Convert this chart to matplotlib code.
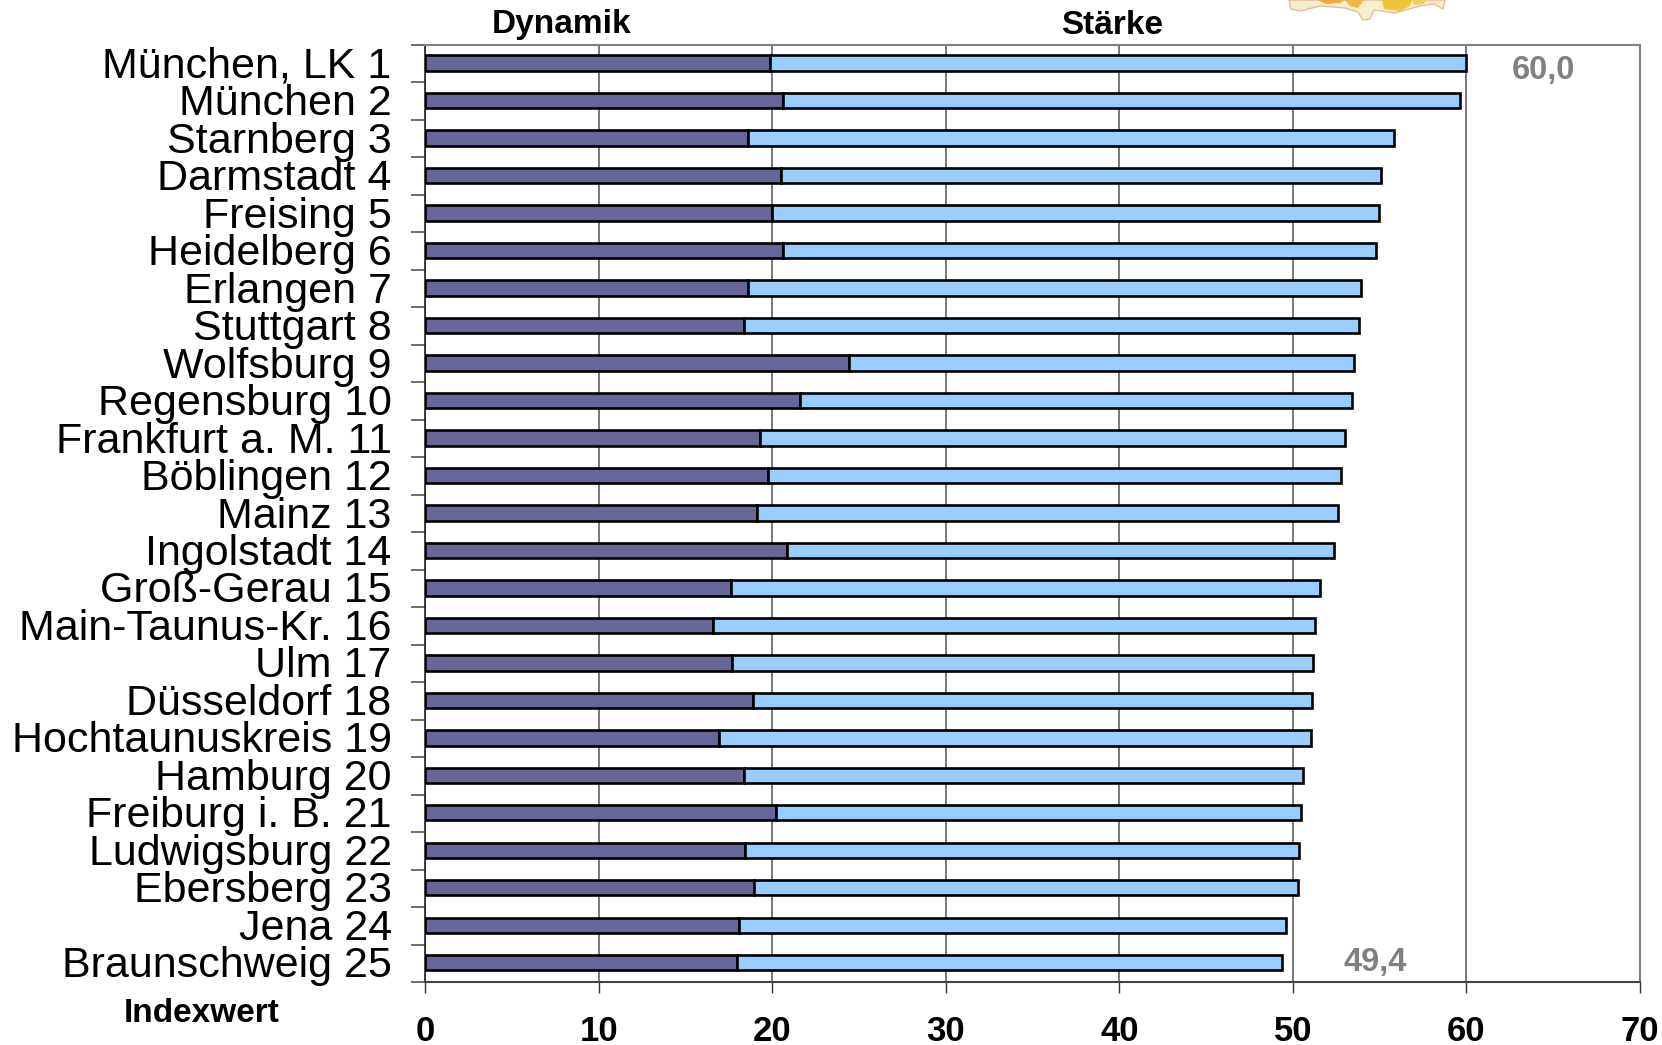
import matplotlib
matplotlib.use("Agg")
import matplotlib.pyplot as plt
import numpy as np
from matplotlib.patches import Polygon
from matplotlib.transforms import ScaledTranslation

CITIES = ["München, LK 1", "München 2", "Starnberg 3", "Darmstadt 4", "Freising 5",
          "Heidelberg 6", "Erlangen 7", "Stuttgart 8", "Wolfsburg 9", "Regensburg 10",
          "Frankfurt a. M. 11", "Böblingen 12", "Mainz 13", "Ingolstadt 14", "Groß-Gerau 15",
          "Main-Taunus-Kr. 16", "Ulm 17", "Düsseldorf 18", "Hochtaunuskreis 19", "Hamburg 20",
          "Freiburg i. B. 21", "Ludwigsburg 22", "Ebersberg 23", "Jena 24", "Braunschweig 25"]
DYNAMIK = [19.85, 20.6, 18.6, 20.5, 20.0, 20.6, 18.6, 18.4, 24.4, 21.6,
           19.3, 19.75, 19.1, 20.85, 17.65, 16.6, 17.7, 18.9, 16.95, 18.4,
           20.2, 18.45, 18.95, 18.1, 18.0]
TOTAL = [60.0, 59.65, 55.8, 55.1, 54.95, 54.8, 53.95, 53.8, 53.55, 53.4,
         53.0, 52.75, 52.6, 52.35, 51.55, 51.3, 51.15, 51.1, 51.05, 50.6,
         50.45, 50.35, 50.3, 49.6, 49.4]
XTICKS = [0, 10, 20, 30, 40, 50, 60, 70]

W, H = 1662, 1045
plt.rcParams["font.family"] = ["Liberation Sans", "DejaVu Sans"]


def map_patch(fig, pts, face, edge="none"):
    # cropped map picture at the top edge, given in pixels
    xy = [(px / W, 1 - py / H) for px, py in pts]
    fig.add_artist(Polygon(xy, closed=True, facecolor=face, edgecolor=edge, linewidth=1,
                           transform=fig.transFigure))


fig = plt.figure(figsize=(W / 100, H / 100), dpi=100)
ax = fig.add_axes([425 / W, 1 - 982 / H, (1640 - 425) / W, (982 - 45) / H])

y = np.arange(len(CITIES)) - 0.015
staerke = np.array(TOTAL) - np.array(DYNAMIK)
ax.barh(y, DYNAMIK, height=0.41, color="#666699", edgecolor="black", linewidth=1.9, zorder=3)
ax.barh(y, staerke, left=DYNAMIK, height=0.41, color="#99ccff", edgecolor="black", linewidth=1.9, zorder=3)

ax.set_xlim(0, 70)
ax.set_ylim(len(CITIES) - 0.5, -0.5)
ax.xaxis.grid(True, color="#555555", linewidth=1.1, zorder=1)
ax.set_axisbelow(True)

ax.set_xticks(XTICKS)
ax.set_xticklabels([str(v) for v in XTICKS], fontsize=25, fontweight="bold")
ax.tick_params(axis="x", length=8, width=1, pad=16, color="#333333")

# labels sit on the categories, tick marks on the boundaries between them
ax.set_yticks(np.arange(len(CITIES)))
ax.set_yticklabels(CITIES, fontsize=31, color="black")
ax.tick_params(axis="y", which="major", length=0, pad=24)
ax.set_yticks(np.arange(len(CITIES) + 1) - 0.5, minor=True)
ax.tick_params(axis="y", which="minor", length=10, width=1.1, color="#444444")
nudge = ScaledTranslation(0, 1.5 / 100, fig.dpi_scale_trans)
for lab in ax.get_yticklabels():
    lab.set_transform(lab.get_transform() + nudge)

ax.spines["left"].set_color("#222222")
ax.spines["left"].set_linewidth(1.2)
for side in ["top", "right", "bottom"]:
    ax.spines[side].set_color("#808080")
    ax.spines[side].set_linewidth(1.5)
ax.spines["bottom"].set_color("#444444")

fig.text(562 / W, 1 - 25 / H, "Dynamik", fontsize=24, fontweight="bold", ha="center", va="center")
fig.text(1112 / W, 1 - 25 / H, "Stärke", fontsize=24, fontweight="bold", ha="center", va="center")
fig.text(202 / W, 1 - 1014 / H, "Indexwert", fontsize=24, fontweight="bold", ha="center", va="center")
ax.text(64.45, 0.18, "60,0", fontsize=23.5, fontweight="bold", color="#808080", ha="center", va="center")
ax.text(54.75, 23.98, "49,4", fontsize=23.5, fontweight="bold", color="#808080", ha="center", va="center")

map_patch(fig, [(1289, 0), (1291, 9), (1300, 11), (1320, 6), (1345, 8), (1358, 12), (1363, 20),
                (1370, 19), (1374, 10), (1395, 13), (1420, 6), (1434, 4), (1443, 9), (1445, 0)],
          "#f6eec8", "#e8b8a0")
map_patch(fig, [(1318, 0), (1326, 4), (1340, 3), (1345, 0)], "#f2a83c")
map_patch(fig, [(1345, 0), (1350, 6), (1358, 8), (1364, 0)], "#f0b848")
map_patch(fig, [(1382, 0), (1384, 9), (1400, 11), (1410, 6), (1412, 0)], "#eec438")
map_patch(fig, [(1412, 0), (1414, 5), (1424, 4), (1426, 0)], "#f0d060")

fig.savefig("out.png", dpi=100)
